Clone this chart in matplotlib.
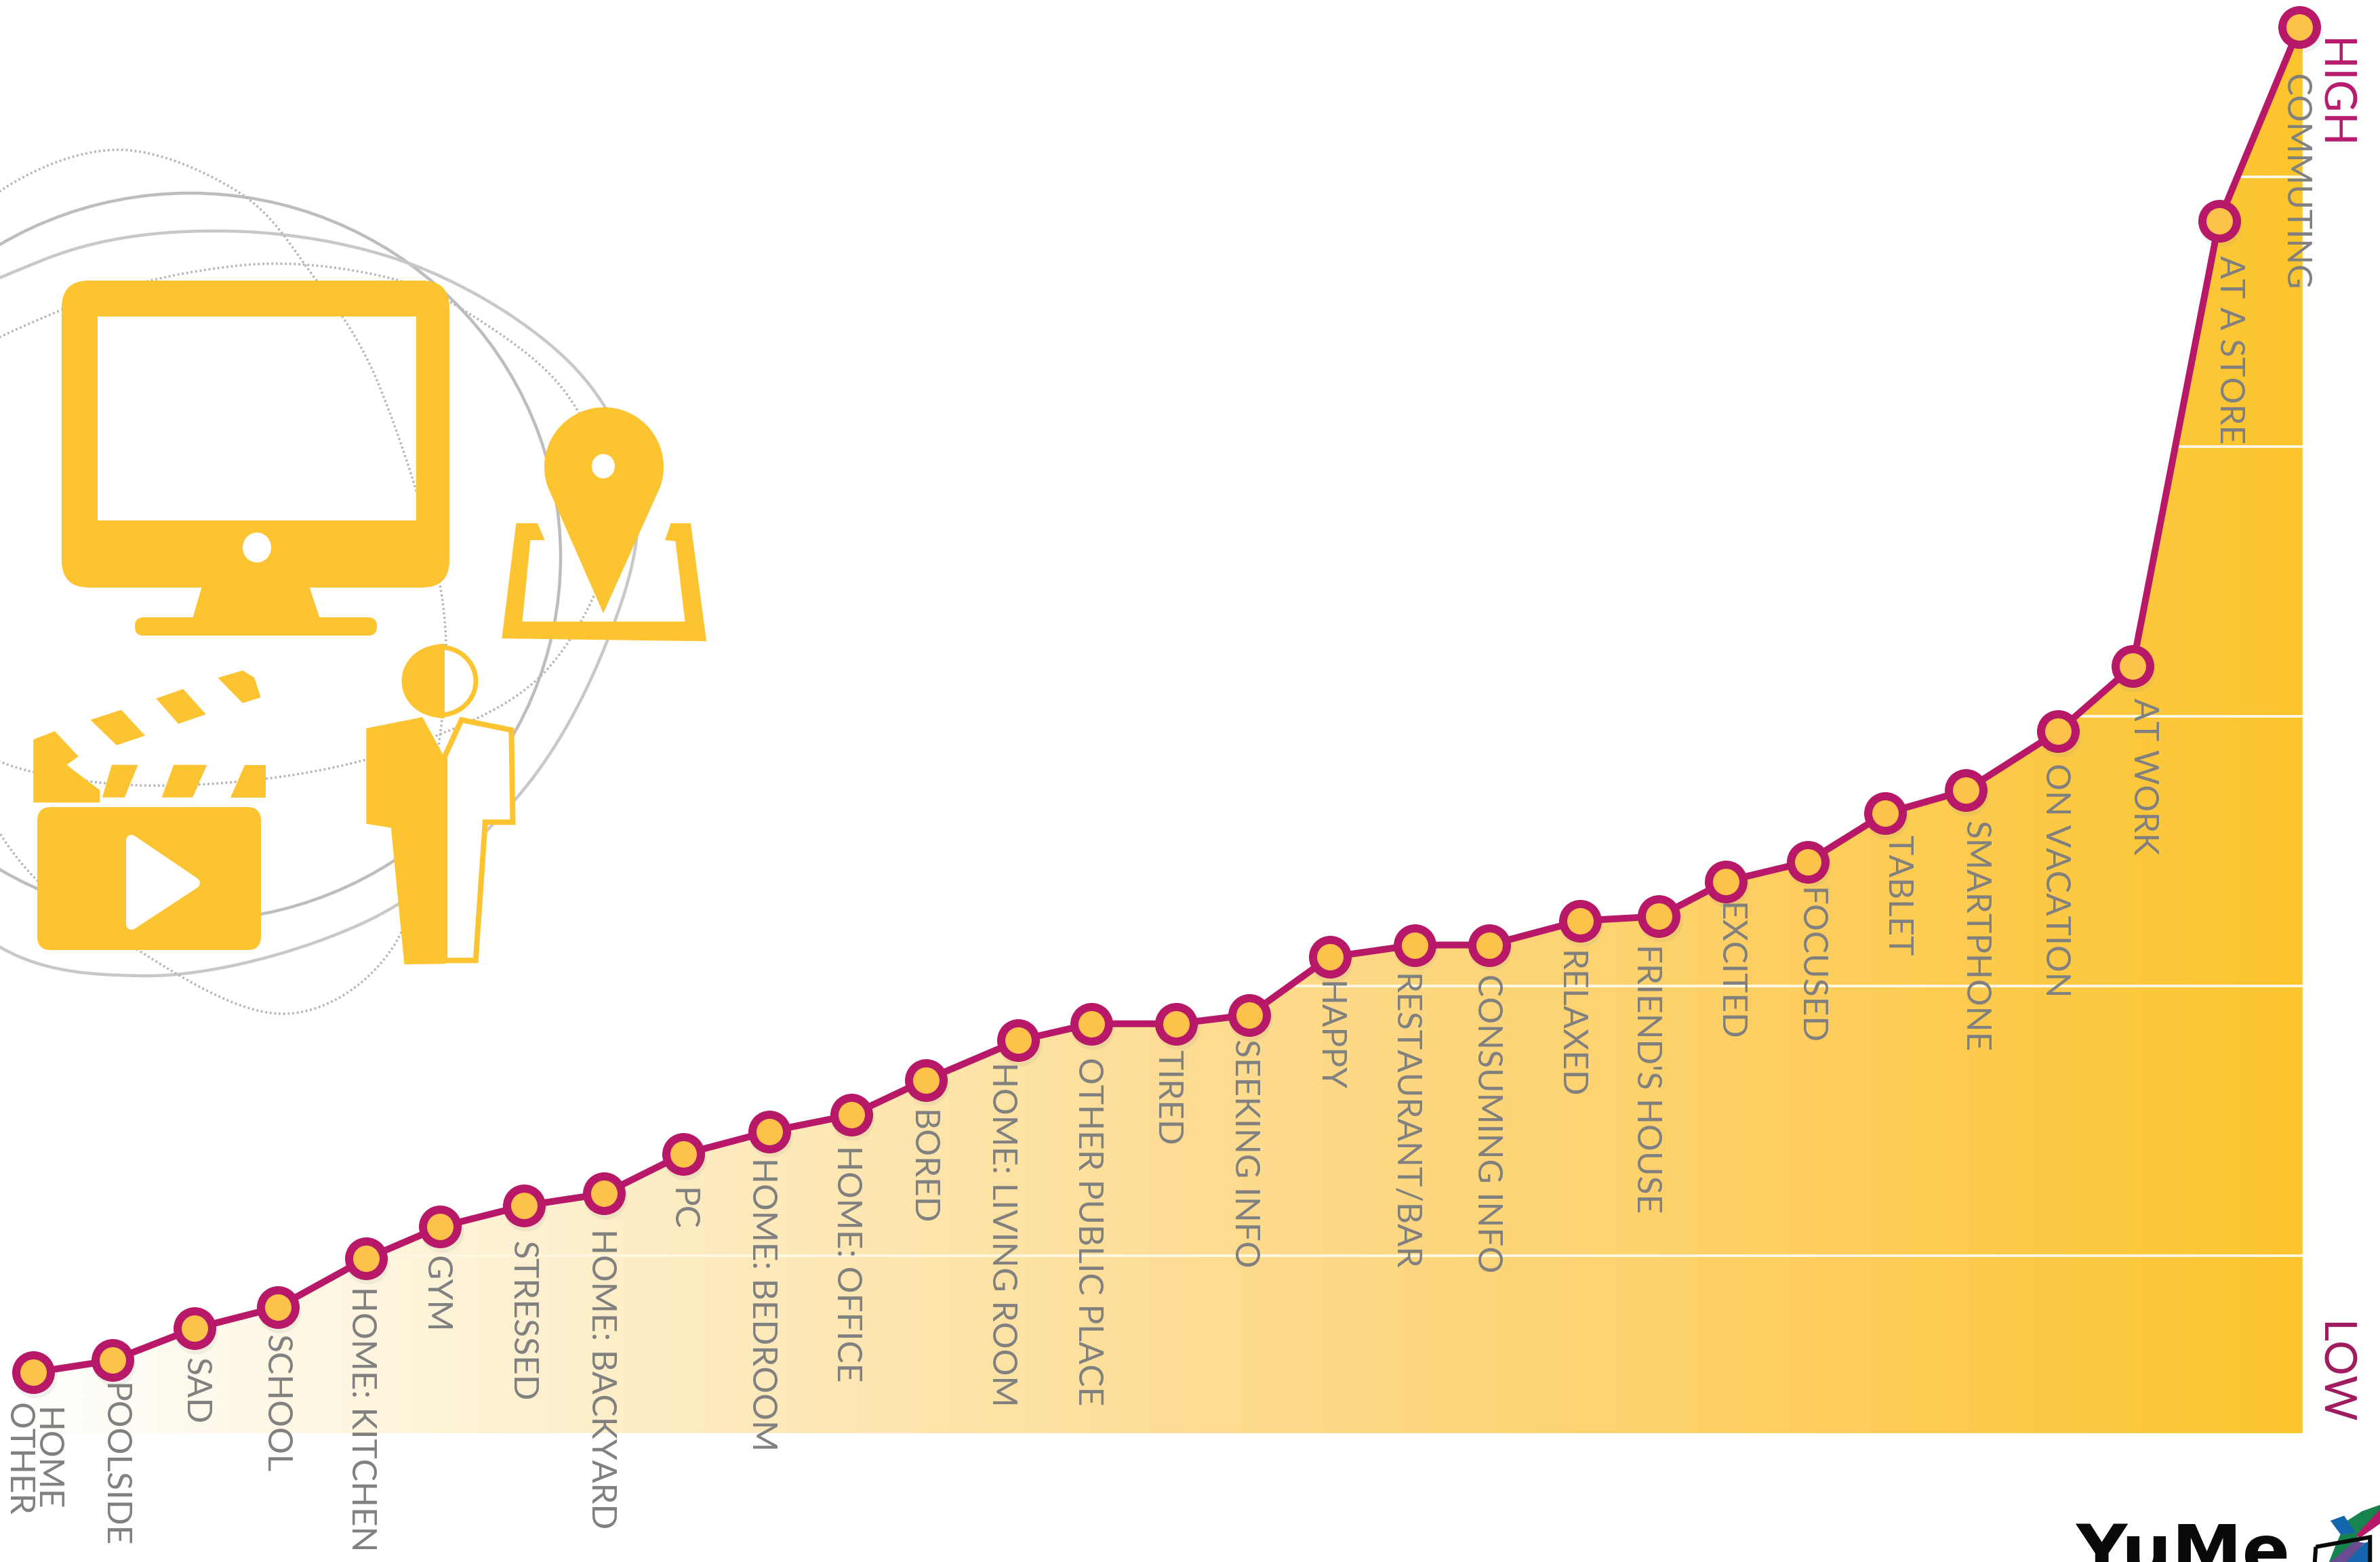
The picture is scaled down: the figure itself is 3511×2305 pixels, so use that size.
import numpy as np
import matplotlib
matplotlib.use("Agg")
import matplotlib.pyplot as plt
from matplotlib.colors import LinearSegmentedColormap
from matplotlib.patches import Ellipse, FancyBboxPatch, PathPatch, Polygon
from matplotlib.path import Path

# ---- data -------------------------------------------------------------
categories = [
    "HOME\nOTHER", "POOLSIDE", "SAD", "SCHOOL", "HOME: KITCHEN", "GYM", "STRESSED",
    "HOME: BACKYARD", "PC", "HOME: BEDROOM", "HOME: OFFICE", "BORED",
    "HOME: LIVING ROOM", "OTHER PUBLIC PLACE", "TIRED", "SEEKING INFO", "HAPPY",
    "RESTAURANT/BAR", "CONSUMING INFO", "RELAXED", "FRIEND'S HOUSE", "EXCITED",
    "FOCUSED", "TABLET", "SMARTPHONE", "ON VACATION", "AT WORK", "AT A STORE",
    "COMMUTING",
]
x_positions = [
    22, 74, 128, 183, 241, 290, 345, 398, 450, 507, 561, 610, 671, 719, 775, 823,
    876, 932, 981, 1041, 1093, 1137, 1191, 1242, 1295, 1356, 1405, 1462, 1515,
]
receptivity = [
    0.567, 0.612, 0.730, 0.809, 0.989, 1.107, 1.185, 1.230, 1.376, 1.461, 1.522,
    1.652, 1.798, 1.860, 1.860, 1.893, 2.107, 2.152, 2.152, 2.242, 2.258, 2.388,
    2.461, 2.640, 2.725, 2.944, 3.185, 4.837, 5.556,
]
grid_levels = [1, 2, 3, 4, 5]
baseline = 0.342
area_right = 1517

# ---- label placement, in x-axis units relative to each marker ----------
label_dx = [
    -1, 1, 1, -1, -3, -3, -1, -2, -1, -5, -3, -3, -11, -2, -6, -3, -1, -7, -1, -7, -8,
    2, 1, 8, 6, -2, 7, 7, -3,
]
label_dy = [
    20, 15, 19, 18, 18, 19, 23, 23, 22, 17, 20, 20, 14, 22, 17, 16, 16, 19, 19, 20,
    18, 14, 17, 14, 20, 21, 21, 23, 31,
]

MAGENTA = "#B81868"
YELLOW = "#FDC431"
GREY_TEXT = "#808080"
FONT = ["Lato", "DejaVu Sans"]
W, H = 3511, 2305
PX = W / 1568
PT = 0.72  # points per pixel at 100 dpi


def closed_curve(points, steps=30):
    """Smooth closed Catmull-Rom curve through the given points."""
    p = np.asarray(points, dtype=float)
    out = []
    n = len(p)
    for i in range(n):
        p0, p1, p2, p3 = p[(i - 1) % n], p[i], p[(i + 1) % n], p[(i + 2) % n]
        for t in np.linspace(0, 1, steps, endpoint=False):
            out.append(0.5 * (2 * p1 + (p2 - p0) * t + (2 * p0 - 5 * p1 + 4 * p2 - p3) * t ** 2
                              + (3 * p1 - p0 - 3 * p2 + p3) * t ** 3))
    return np.array(out)


fig = plt.figure(figsize=(W / 100, H / 100), dpi=100, facecolor="white")

# ---- decorative icon layer, in pixel coordinates -----------------------
deco = fig.add_axes([0, 0, 1, 1], zorder=1)
deco.set_xlim(0, W)
deco.set_ylim(H, 0)
deco.axis("off")


def g(points):
    """Convert icon design-grid units into pixels."""
    return [(x / 1.425, 200 + y / 1.206) for x, y in points]


def blob(points, **kw):
    deco.add_patch(Polygon(g(points), closed=True, facecolor=kw.pop("fc", YELLOW),
                           edgecolor=kw.pop("ec", "none"), zorder=kw.pop("z", 4), **kw))


orbit_b = [(-200, 560), (60, 385), (337, 341), (620, 395), (850, 545), (940, 740),
           (890, 960), (760, 1180), (540, 1360), (210, 1440), (-60, 1350), (-260, 950)]
orbit_c = [(-120, 420), (0, 282), (175, 221), (351, 283), (456, 399), (561, 573), (653, 888), (640, 1150),
           (582, 1394), (421, 1496), (210, 1406), (0, 1230), (-170, 800)]
orbit_d = [(-180, 620), (91, 457), (351, 392), (561, 407), (702, 469), (842, 590),
           (905, 780), (807, 988), (620, 1095), (393, 1149), (140, 1154), (-60, 1090), (-220, 880)]

deco.add_patch(Ellipse((280, 822), 1094, 1074, fill=False, ec="#BDBDBD", lw=4.5 * PT, zorder=2))
deco.plot(*closed_curve(orbit_b).T, color="#C8C8C8", lw=4.5 * PT, zorder=2)
for orbit in (orbit_c, orbit_d):
    deco.plot(*closed_curve(orbit).T, color="#B5B5B5", lw=3.5 * PT, ls=(0, (0.8, 1.1)), zorder=2)

# monitor with a see-through screen
frame = FancyBboxPatch((131, 454), 492, 373, boxstyle="round,pad=40").get_path()
screen = Path([(144, 467), (144, 768), (614, 768), (614, 467), (144, 467)],
              [Path.MOVETO, Path.LINETO, Path.LINETO, Path.LINETO, Path.CLOSEPOLY])
outer_area = np.cross(frame.vertices[:-1], frame.vertices[1:]).sum()
inner_area = np.cross(screen.vertices[:-1], screen.vertices[1:]).sum()
if np.sign(outer_area) == np.sign(inner_area):
    screen = Path(screen.vertices[::-1], screen.codes)
deco.add_patch(PathPatch(Path.make_compound_path(frame, screen), fc=YELLOW, ec="none", zorder=4))
deco.add_patch(Ellipse((379, 808), 42, 44, fc="white", ec="none", zorder=5))
deco.add_patch(Polygon([(298, 865), (456, 865), (472, 913), (284, 913)], fc=YELLOW, ec="none", zorder=4))
deco.add_patch(FancyBboxPatch((212, 924), 331, 1, boxstyle="round,pad=13", fc=YELLOW, ec="none", zorder=4))

# clapperboard
deco.add_patch(FancyBboxPatch((75, 1211), 290, 171, boxstyle="round,pad=20", fc=YELLOW, ec="none", zorder=4))
deco.add_patch(Polygon([(194, 1240), (287, 1303), (194, 1364)], fc="white", ec="white", lw=16 * PT,
                       joinstyle="round", zorder=5))
blob([(70, 1075), (115, 1060), (165, 1105), (140, 1120), (210, 1165), (210, 1187), (70, 1187)])
blob([(235, 1120), (290, 1120), (262, 1178), (215, 1178)])
blob([(365, 1120), (435, 1120), (405, 1178), (340, 1178)])
blob([(515, 1120), (558, 1120), (558, 1178), (485, 1178)])
blob([(190, 1040), (255, 1022), (305, 1068), (245, 1085)])
blob([(328, 1002), (385, 985), (433, 1030), (375, 1047)])
blob([(458, 965), (510, 952), (535, 965), (548, 1000), (510, 1010)])

# person, half solid and half outlined
blob([(935, 1105), (970, 1040), (1075, 1058), (1078, 1222), (1020, 1222), (1000, 1468), (935, 1468)],
     fc="white", ec=YELLOW, lw=8 * PT)
blob([(770, 1055), (888, 1035), (930, 1100), (937, 1130), (937, 1474), (850, 1475), (822, 1232), (770, 1225)])
deco.add_patch(Ellipse((649, 1005), 106, 100, fc="white", ec=YELLOW, lw=7 * PT, zorder=4))
theta = np.linspace(np.pi / 2, 3 * np.pi / 2, 40)
deco.add_patch(Polygon(np.c_[656 + 60 * np.cos(theta), 1005 + 55 * np.sin(theta)], fc=YELLOW, ec="none", zorder=5))

# map pin over an open book
blob([(1085, 690), (1130, 690), (1145, 720), (1115, 720), (1098, 865), (1440, 865), (1420, 722),
      (1398, 720), (1410, 690), (1452, 690), (1485, 900), (1055, 895)])
theta = np.radians(np.linspace(160, 380, 60))
pin = np.c_[891 + 88 * np.cos(theta), 689 + 88 * np.sin(theta)]
deco.add_patch(Polygon(np.vstack([pin, [(890, 905)]]), fc=YELLOW, ec="none", zorder=5))
deco.add_patch(Ellipse((890, 688), 34, 36, fc="white", ec="none", zorder=6))


# ---- chart layer -------------------------------------------------------
ax = fig.add_axes([0, 0, 1, 1], zorder=2)
ax.patch.set_alpha(0)

x = np.array(x_positions, dtype=float)
y = np.array(receptivity)
area_x = np.r_[x, area_right]
area_y = np.r_[y, y[-1]]

area = ax.fill_between(area_x, baseline, area_y, facecolor="none", edgecolor="none", zorder=1)
clip = area.get_paths()[0]

ramp = LinearSegmentedColormap.from_list(
    "ramp",
    [(0.0, "#FFFFFF"), (0.13, "#FEF7E3"), (0.27, "#FDEEC8"), (0.53, "#FDDC91"),
     (0.79, "#FDCE5E"), (1.0, "#FCC52E")],
)
gradient = ax.imshow(np.linspace(0, 1, 512)[None, :], cmap=ramp, aspect="auto",
                     extent=(0, area_right, baseline, y.max()), zorder=1, interpolation="bilinear")
gradient.set_clip_path(clip, transform=ax.transData)

for level in grid_levels:
    line = ax.plot([0, area_right], [level, level], color="#FFF7DF", lw=4 * PT, zorder=2,
                   solid_capstyle="butt")[0]
    line.set_clip_path(clip, transform=ax.transData)

for name, xi, yi, dx, dy in zip(categories, x, y, label_dx, label_dy):
    ax.annotate(name, xy=(xi, yi), xytext=(dx * PX, -dy * PX), textcoords="offset pixels",
                rotation=270, ha="center", va="top", color=GREY_TEXT, fontsize=35.8,
                family=FONT, linespacing=0.85, zorder=3)

# soft shadow beneath the markers
ax.plot(x + 1, y - 0.015, ls="none", marker="o", ms=64 * PT, mfc="#999999", mec="none", alpha=0.13, zorder=3.5)
ax.plot(x, y, color=MAGENTA, lw=10 * PT, zorder=4, solid_joinstyle="round")
ax.plot(x, y, ls="none", marker="o", ms=51 * PT, mfc="#FDC24A", mec=MAGENTA, mew=12 * PT, zorder=5)

ax.text(1537, 5.31, "HIGH", rotation=270, ha="center", va="center", color="#B71B6E",
        fontsize=46.5, family=FONT)
ax.text(1537, 0.567, "LOW", rotation=270, ha="center", va="center", color="#9E1B5E",
        fontsize=46.5, family=FONT)

ax.set_xlim(0, 1568)
ax.set_ylim(1 - (H - 1853) / 398, 1 + 1853 / 398)
ax.axis("off")

# ---- logo, running off the lower edge ----------------------------------
deco.text(3062, 2324, "YuMe", fontsize=75, weight="bold", family="DejaVu Sans", color="#0A0A0A",
          ha="left", va="baseline", zorder=7, clip_on=False)


def lg(points):
    return [(2900 + a / 2.566, 1800 + b / 3.0) for a, b in points]


deco.add_patch(Polygon(lg([(1440, 1335), (1500, 1290), (1568, 1262), (1568, 1285), (1480, 1395),
                           (1520, 1515), (1375, 1515), (1400, 1440)]), fc="#17834F", ec="none", zorder=7))
deco.add_patch(Polygon(lg([(1380, 1332), (1432, 1310), (1475, 1385), (1420, 1395)]), fc="#1565AE", ec="none", zorder=8))
deco.add_patch(Polygon(lg([(1568, 1282), (1568, 1345), (1490, 1410), (1478, 1395)]), fc="#B81868", ec="none", zorder=8))
deco.add_patch(Polygon(lg([(1440, 1515), (1510, 1430), (1528, 1425), (1528, 1515)]), fc="#1565AE", ec="none", zorder=8))
deco.add_patch(Polygon(lg([(1380, 1515), (1470, 1425), (1510, 1430), (1440, 1515)]), fc="#6A4C93", ec="none", zorder=8))
deco.add_patch(Polygon(lg([(1325, 1448), (1530, 1405), (1530, 1530), (1320, 1530)]), fill=False, ec="#0A0A0A",
                       lw=6 * PT, zorder=9))

fig.savefig("out.png", dpi=100, facecolor="white")
